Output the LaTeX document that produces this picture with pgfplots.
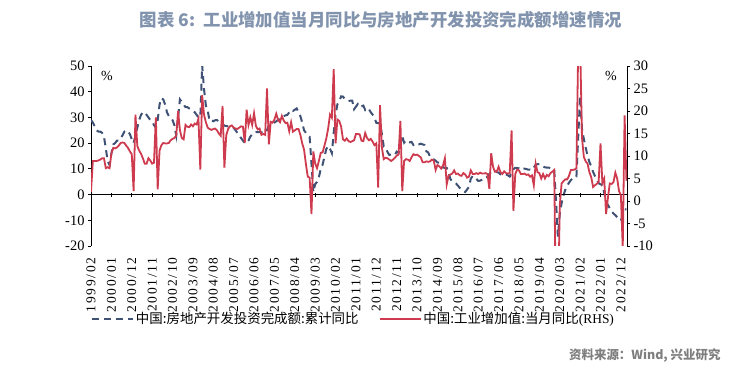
\documentclass[border=0pt]{standalone}
\usepackage{fontspec}
\usepackage{pgfplots}
\usepackage{pgfplotstable}
\pgfplotsset{compat=1.18}
\setmainfont{Liberation Serif}
\newfontfamily\cjk{Noto Sans CJK SC}
\newfontfamily\tickx{Liberation Serif}[LetterSpace=13]
\definecolor{bl}{HTML}{3F5275}
\definecolor{rd}{HTML}{CE3A4E}
\definecolor{tt}{HTML}{8193AD}
\definecolor{src}{HTML}{7F7F7F}

\pgfplotstableread{
m b r
0 29.0 2.0
1 28.0 8.9
2 26.5 8.9
3 25.0 8.9
4 24.5 9.0
5 24.5 9.2
6 24.0 9.5
7 22.5 9.5
8 18.0 7.3
9 13.0 7.5
10 11.5 7.3
11 16.0 10.5
12 19.5 11.8
13 20.0 11.7
14 21.0 11.9
15 21.0 12.3
16 22.0 12.9
17 23.0 13.0
18 24.5 12.9
19 25.0 12.3
20 24.5 11.8
21 23.5 11.0
22 21.5 10.4
23 20.0 2.2
24 23.0 19.2
25 26.0 12.2
26 29.0 11.2
27 31.0 10.5
28 32.0 9.5
29 32.0 8.3
30 31.0 8.3
31 30.0 9.5
32 29.0 9.0
33 28.5 8.3
34 27.0 8.5
35 26.0 18.6
36 29.0 2.6
37 35.0 11.2
38 37.5 12.4
39 37.0 12.9
40 35.0 12.8
41 32.0 12.8
42 30.5 12.9
43 30.0 13.5
44 29.0 13.8
45 27.0 14.0
46 23.0 14.5
47 30.0 20.0
48 37.0 15.7
49 36.0 14.0
50 35.0 13.7
51 34.0 16.9
52 34.0 16.5
53 33.5 16.4
54 33.0 17.0
55 32.5 16.6
56 32.0 17.2
57 31.0 17.0
58 30.0 18.3
59 30.0 7.0
60 50.2 23.5
61 41.1 19.2
62 34.6 17.5
63 32.6 16.3
64 28.7 16.0
65 29.0 15.8
66 28.5 16.0
67 28.9 16.1
68 29.0 15.7
69 28.3 15.0
70 28.1 14.5
71 27.5 21.1
72 26.8 7.4
73 26.7 14.6
74 26.5 16.0
75 26.5 16.6
76 26.5 16.8
77 26.0 16.3
78 25.0 16.1
79 24.0 16.0
80 23.0 16.3
81 22.0 16.6
82 21.0 16.5
83 20.0 12.9
84 20.2 20.3
85 21.0 16.9
86 22.5 18.6
87 23.5 16.9
88 24.2 19.5
89 24.3 16.7
90 24.3 15.9
91 24.3 16.1
92 24.2 14.7
93 24.3 14.9
94 24.0 14.7
95 25.0 25.0
96 26.9 12.6
97 27.0 17.6
98 27.5 17.4
99 28.0 18.1
100 28.5 19.4
101 29.0 18.0
102 29.5 17.5
103 30.3 18.9
104 30.5 17.9
105 30.8 17.3
106 31.0 17.4
107 32.0 15.5
108 32.9 17.5
109 32.5 15.4
110 33.0 15.7
111 33.5 16.0
112 32.0 16.0
113 30.5 14.7
114 28.0 12.8
115 25.0 11.4
116 24.0 8.2
117 23.0 5.4
118 22.5 5.2
119 12.0 -2.9
120 1.0 11.0
121 4.1 8.3
122 4.9 7.3
123 6.8 8.9
124 9.9 10.7
125 11.6 10.8
126 14.7 12.3
127 17.7 13.9
128 18.9 16.1
129 17.8 19.2
130 16.1 18.5
131 24.0 29.3
132 31.1 12.8
133 35.1 18.1
134 36.2 17.8
135 38.2 16.5
136 38.1 13.7
137 37.2 13.4
138 36.7 13.9
139 36.4 13.3
140 36.5 13.1
141 36.5 13.3
142 33.2 13.5
143 34.2 14.9
144 35.2 14.9
145 34.1 14.8
146 34.3 13.4
147 34.6 13.3
148 32.9 15.1
149 33.6 14.0
150 33.2 13.5
151 32.0 13.8
152 31.1 13.2
153 29.9 12.4
154 27.9 12.8
155 27.8 3.0
156 27.8 21.3
157 23.5 11.9
158 18.7 9.3
159 18.5 9.6
160 16.6 9.5
161 15.4 9.2
162 15.6 8.9
163 15.4 9.2
164 15.4 9.6
165 16.7 10.1
166 16.2 10.3
167 19.5 17.8
168 22.8 2.2
169 20.2 8.9
170 21.1 9.3
171 20.6 9.2
172 20.3 8.9
173 20.5 9.7
174 19.3 10.4
175 19.7 10.2
176 19.2 10.3
177 19.5 10.0
178 19.8 9.7
179 19.5 8.6
180 19.3 8.6
181 16.8 8.8
182 16.4 8.7
183 14.7 8.8
184 14.1 9.2
185 13.7 9.0
186 13.2 6.9
187 12.5 8.0
188 12.4 7.7
189 11.9 7.2
190 10.5 7.9
191 10.4 9.5
192 10.4 3.7
193 8.5 5.6
194 6.0 5.9
195 5.1 6.1
196 4.6 6.8
197 4.3 6.0
198 3.5 6.1
199 2.6 5.7
200 2.0 5.6
201 1.3 6.2
202 1.0 5.9
203 2.0 5.2
204 3.0 5.4
205 6.2 6.8
206 7.2 6.0
207 7.0 6.0
208 6.1 6.2
209 5.3 6.0
210 5.4 6.3
211 5.8 6.1
212 6.6 6.1
213 6.5 6.2
214 6.9 6.0
215 8.0 2.7
216 8.9 10.6
217 9.1 7.6
218 9.3 6.5
219 8.8 6.5
220 8.5 7.6
221 7.9 6.4
222 7.9 6.0
223 8.1 6.6
224 7.8 6.2
225 7.5 6.1
226 7.0 6.2
227 8.5 15.7
228 9.9 -2.2
229 10.4 6.0
230 10.3 7.0
231 10.2 6.8
232 9.7 6.0
233 10.2 6.0
234 10.1 6.1
235 9.9 5.8
236 9.7 5.9
237 9.7 5.4
238 9.5 5.7
239 10.5 3.5
240 11.6 8.3
241 11.8 6.4
242 11.9 6.2
243 11.2 5.0
244 10.9 6.0
245 10.6 5.0
246 10.5 5.8
247 10.5 5.5
248 10.3 6.2
249 10.2 6.5
250 9.9 6.9
251 -3.0 -25.9
252 -16.3 -25.9
253 -7.7 -1.1
254 -3.3 3.9
255 -0.3 4.4
256 1.9 4.8
257 3.4 4.8
258 4.6 5.6
259 5.6 6.9
260 6.3 6.9
261 6.8 7.0
262 7.0 7.3
263 23.0 35.1
264 38.3 35.1
265 25.6 14.1
266 21.6 9.8
267 18.3 8.8
268 15.0 8.3
269 12.7 6.4
270 10.9 5.3
271 8.8 3.1
272 7.2 3.5
273 6.0 3.8
274 4.4 4.3
275 4.0 12.8
276 3.7 4.0
277 0.7 5.0
278 -2.7 -2.9
279 -4.0 0.7
280 -5.4 3.9
281 -6.4 3.8
282 -7.4 4.2
283 -8.0 6.3
284 -8.8 5.0
285 -9.8 2.2
286 -10.0 1.3
287 -8.0 -10.5
288 -5.7 19.0
289 -5.8 4.5
}\data

\pgfplotsset{
  common/.style={
    at={(91bp,122bp)}, anchor=south west, scale only axis,
    width=536bp, height=180bp, xmin=0, xmax=289.3,
    /pgf/number format/assume math mode=true,
    tick align=outside, major tick length=3bp,
    axis line style={line width=0.8bp, black},
    every tick/.style={black, line width=0.8bp},
    yticklabel style={font=\fontsize{14.5}{14.5}\selectfont},
  },
  blstyle/.style={bl, line width=2bp, dash pattern=on 7bp off 5bp},
  rdstyle/.style={rd, line width=1.8bp},
}

\begin{document}
\begin{tikzpicture}
% left axis with blue series and date labels
\begin{axis}[common,
  ymin=-20, ymax=50, ytick={-20,-10,...,50},
  axis y line*=left, axis x line*=bottom,
  x axis line style={draw=none},
  xtick={0,11,...,286},
  xtick style={draw=none},
  xticklabels={1999/02,2000/01,2000/12,2001/11,2002/10,2003/09,2004/08,2005/07,2006/06,2007/05,2008/04,2009/03,2010/02,2011/01,2011/12,2012/11,2013/10,2014/09,2015/08,2016/07,2017/06,2018/05,2019/04,2020/03,2021/02,2022/01,2022/12},
  xticklabel style={yshift=-5bp, rotate=90, anchor=east, font=\tickx\fontsize{13.5}{13.5}\selectfont},
]
\addplot[blstyle] table[x=m, y=b]{\data};
\end{axis}
% zero line with tick marks
\begin{axis}[common,
  ymin=-20, ymax=50,
  axis x line=middle, axis y line=none,
  x axis line style={-},
  xtick={0,11,...,286}, xticklabels={},
  major tick length=4bp,
]
\end{axis}
% right axis with red series
\begin{axis}[common,
  ymin=-10, ymax=30, ytick={-10,-5,...,30},
  axis y line*=right, axis x line=none,
  legend style={at={(-0.006,-0.405)}, anchor=west, draw=none, fill=none,
    font=\fontsize{13.5}{13.5}\selectfont, legend columns=2,
    /tikz/every even column/.append style={column sep=18bp}},
  legend image code/.code={\draw[#1] (0bp,0bp) -- (41bp,0bp);},
]
\addlegendimage{blstyle}
\addlegendentry{{\cjk 中国:房地产开发投资完成额:累计同比}}
\addplot[rdstyle] table[x=m, y=r]{\data};
\addlegendentry{{\cjk 中国:工业增加值:当月同比}(RHS)}
\end{axis}
\node[font=\fontsize{14}{14}\selectfont] at (107bp,292bp) {\%};
\node[font=\fontsize{14}{14}\selectfont] at (611bp,292bp) {\%};
\node[text=tt] at (381bp,348bp) {\cjk\bfseries\fontsize{17.5}{17.5}\selectfont 图表 6:\ \ 工业增加值当月同比与房地产开发投资完成额增速情况};
\node[anchor=east, text=src] at (724bp,12bp) {\cjk\bfseries\fontsize{12.5}{12.5}\selectfont 资料来源：Wind, 兴业研究};
\pgfresetboundingbox
\path[use as bounding box] (0bp,0bp) rectangle (732bp,368bp);
\end{tikzpicture}
\end{document}
